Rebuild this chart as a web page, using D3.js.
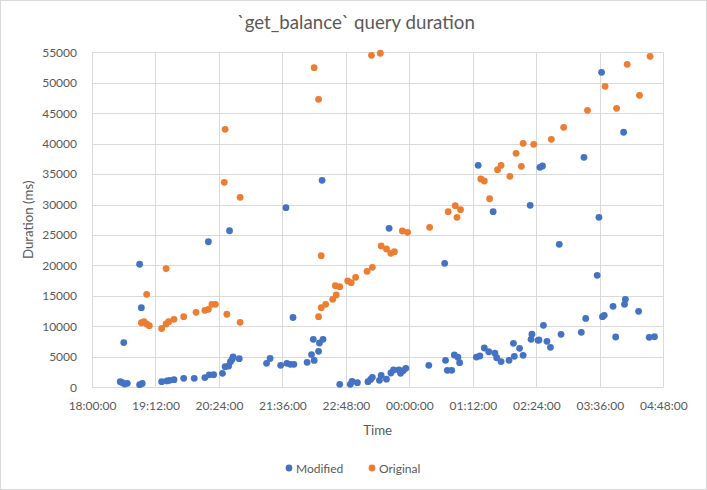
<!DOCTYPE html>
<html>
<head>
<meta charset="utf-8">
<script src="https://cdn.jsdelivr.net/npm/d3@7"></script>
<style>
html,body{margin:0;padding:0;background:#fff;}
svg{display:block;}
text{font-family:Lato,"Open Sans",sans-serif;fill:#595959;}
</style>
</head>
<body>
<svg id="chart" width="707" height="490"></svg>
<script>
const title = "`get_balance` query duration";
const xTitle = "Time";
const yTitle = "Duration (ms)";
const seriesNames = ["Modified", "Original"];
const seriesColors = ["#4472C4", "#ED7D31"];
const xTickLabels = ["18:00:00","19:12:00","20:24:00","21:36:00","22:48:00","00:00:00","01:12:00","02:24:00","03:36:00","04:48:00"];
const yTicks = [0,5000,10000,15000,20000,25000,30000,35000,40000,45000,50000,55000];

const modifiedTimes = ["18:32","18:34","18:37","18:40","18:36","18:54","18:57","18:54","18:56","19:19","19:25","19:28","19:33","19:44","19:56","20:08","20:13","20:18","20:28","20:31","20:35","20:37","20:39","20:40","20:47","20:12","20:36","21:18","21:22","21:34","21:40","21:41","21:45","21:49","21:48","22:04","22:09","22:11","22:12","22:17","22:18","22:22","22:21","22:41","22:53","22:55","23:01","23:13","23:16","23:18","23:26","23:28","23:34","23:39","23:42","23:48","23:50","23:53","23:56","23:37","00:22","00:40","00:41","00:43","00:48","00:51","00:55","00:57","01:16","01:20","01:25","01:30","01:37","01:39","01:44","01:53","01:58","01:59","02:05","02:09","01:18","01:35","02:17","02:18","02:19","02:26","02:27","02:32","02:36","02:40","02:28","02:31","02:50","02:52","03:15","03:20","03:18","03:33","03:35","03:38","03:39","03:41","03:51","03:54","04:03","04:04","04:05","04:20","04:32","04:38"];
const modifiedValues = [920,790,540,660,7350,430,620,20200,13070,920,1050,1150,1250,1480,1480,1600,2050,2080,2300,3380,3500,4200,4600,5000,4700,23900,25700,3940,4730,3610,29490,3940,3780,3780,11460,4100,5380,7880,4420,5900,7270,7880,33980,490,490,980,760,920,1300,1640,1150,1950,1330,2350,2840,2840,2300,2730,3120,26100,3610,20360,4430,2790,2790,5300,4930,4040,4970,5140,6450,5840,5600,4850,4220,4430,7220,5090,6400,5250,36450,28830,29880,7880,8720,7720,7770,10180,7550,6570,36120,36330,23480,8700,9030,11300,37760,18390,27910,51720,11600,11820,13300,8260,41870,13630,14450,12480,8210,8310];

const originalTimes = ["18:56","18:59","19:02","19:05","19:02","19:19","19:24","19:24","19:27","19:33","19:44","19:58","20:08","20:12","20:16","20:20","20:33","20:48","20:31","20:30","20:48","22:12","22:17","22:17","22:20","22:20","22:25","22:33","22:37","22:36","22:41","22:50","22:54","22:59","23:12","23:18","23:17","23:27","23:28","23:34","23:39","23:43","23:52","23:58","00:23","00:44","00:52","00:54","00:58","01:21","01:25","01:31","01:40","01:44","01:54","02:01","02:07","02:09","02:21","02:41","02:55","03:22","03:42","03:55","04:07","04:21","04:33"];
const originalValues = [10600,10770,10390,10110,15270,9650,10390,19500,10770,11160,11590,12310,12640,12810,13630,13630,11990,10670,42360,33660,31190,52470,47280,11590,21610,13070,13630,14450,15150,16680,16520,17450,17170,18060,19040,19700,54510,54840,23200,22710,22000,22270,25660,25450,26270,28830,29820,27910,29160,34200,33870,30960,35730,36450,34640,38420,36280,40060,39890,40720,42690,45480,49420,45810,53030,47940,54340];

function toMin(s){
  const [h,m] = s.split(":").map(Number);
  let t = h*60+m;
  if (h < 18) t += 1440;
  return t - 1080;
}

const svg = d3.select("#chart");
const W = 707, H = 490;
const plot = {left:92, right:663.3, top:52.3, bottom:387.3};

svg.append("rect").attr("x",0.5).attr("y",0.5).attr("width",W-1).attr("height",H-1)
  .attr("fill","#fff").attr("stroke","#D9D9D9");

const x = d3.scaleLinear().domain([0, 648]).range([plot.left, plot.right]);
const y = d3.scaleLinear().domain([0, 55000]).range([plot.bottom, plot.top]);
const xTickVals = xTickLabels.map((d,i)=>i*72);

// gridlines
svg.append("g").selectAll("line").data(yTicks).join("line")
  .attr("x1",plot.left).attr("x2",plot.right)
  .attr("y1",d=>Math.round(y(d))+0.5).attr("y2",d=>Math.round(y(d))+0.5)
  .attr("stroke","#D9D9D9");
svg.append("g").selectAll("line").data(xTickVals).join("line")
  .attr("y1",plot.top).attr("y2",plot.bottom)
  .attr("x1",d=>Math.round(x(d))+0.5).attr("x2",d=>Math.round(x(d))+0.5)
  .attr("stroke","#D9D9D9");

// axes
const xAxis = d3.axisBottom(x).tickValues(xTickVals).tickSize(0).tickPadding(14)
  .tickFormat((d,i)=>xTickLabels[i]);
const gx = svg.append("g").attr("transform",`translate(0,${plot.bottom})`).call(xAxis);
gx.select(".domain").remove();
gx.selectAll("text").style("font-family","Lato, sans-serif").style("font-size","12px").attr("fill","#595959");

const yAxis = d3.axisLeft(y).tickValues(yTicks).tickSize(0).tickPadding(15).tickFormat(d3.format("d"));
const gy = svg.append("g").attr("transform",`translate(${plot.left},0)`).call(yAxis);
gy.select(".domain").remove();
gy.selectAll("text").style("font-family","Lato, sans-serif").style("font-size","12px").attr("fill","#595959");

// points
const series = [
  {name:seriesNames[0], color:seriesColors[0], t:modifiedTimes, v:modifiedValues},
  {name:seriesNames[1], color:seriesColors[1], t:originalTimes, v:originalValues}
];
series.forEach(s=>{
  svg.append("g").selectAll("circle").data(s.t.map((t,i)=>({t:toMin(t), v:s.v[i]})))
    .join("circle")
    .attr("cx",d=>x(d.t)).attr("cy",d=>y(d.v)).attr("r",3.4)
    .attr("fill",s.color);
});

// titles
svg.append("text").attr("x",356).attr("y",29).attr("text-anchor","middle")
  .style("font-size","18.7px").text(title);
svg.append("text").attr("x",(plot.left+plot.right)/2).attr("y",435).attr("text-anchor","middle")
  .style("font-size","13.3px").text(xTitle);
svg.append("text").attr("transform",`translate(33,${(plot.top+plot.bottom)/2}) rotate(-90)`)
  .attr("text-anchor","middle").style("font-size","13.3px").text(yTitle);

// legend
const legendX = [289, 372];
series.forEach((s,i)=>{
  svg.append("circle").attr("cx",legendX[i]).attr("cy",468).attr("r",3.4).attr("fill",s.color);
  svg.append("text").attr("x",legendX[i]+7).attr("y",472.5).style("font-size","12px").text(s.name);
});
</script>
</body>
</html>
